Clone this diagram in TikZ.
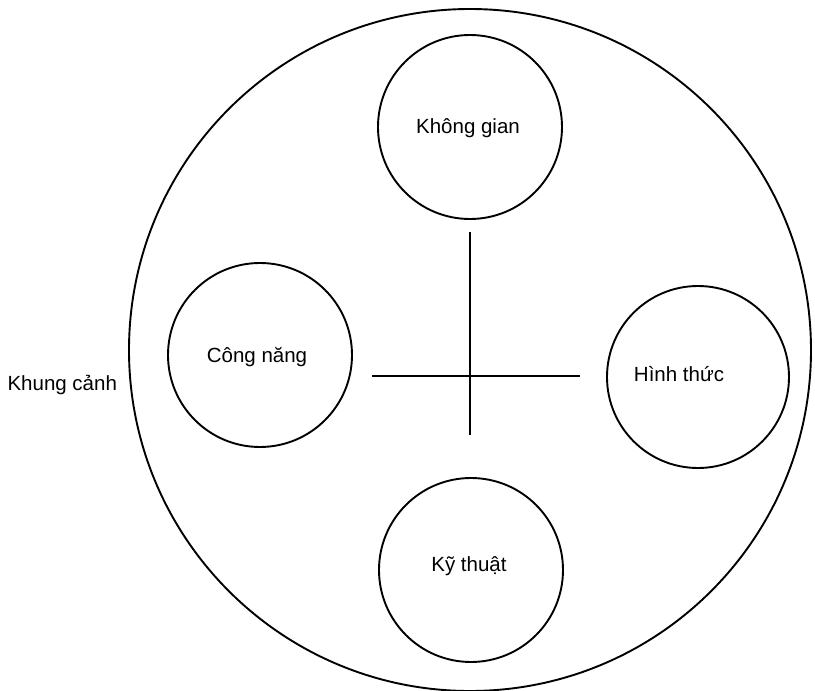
\documentclass[tikz,border=0pt]{standalone}
\usepackage{fontspec}
\setmainfont{Liberation Sans}
\begin{document}
\begin{tikzpicture}[x=1pt,y=-1pt,
  ring/.style={draw=black,line width=1.9pt,circle,inner sep=0pt},
  lbl/.style={font=\fontsize{20.5}{24}\selectfont,text=black},
  bar/.style={line width=1.9pt,draw=black}]
\useasboundingbox (0,0) rectangle (815,691);
\node[ring,minimum size=682pt] (outer) at (470,350) {};
\node[ring,minimum size=184pt] (kg) at (470,127) {};
\node[lbl] at (468,128) {Không gian};
\node[ring,minimum size=184pt] (cn) at (260,355) {};
\node[lbl] at (257,357) {Công năng};
\node[ring,minimum size=182pt] (ht) at (698,377) {};
\node[lbl] at (679,374) {Hình thức};
\node[ring,minimum size=184pt] (kt) at (471,570) {};
\node[lbl] at (469,566) {Kỹ thuật};
\node[lbl,anchor=west] (kc) at (4,385) {Khung cảnh};
\coordinate (vt) at (470,232);
\coordinate (vb) at (470,435);
\coordinate (hl) at (372,376);
\coordinate (hr) at (580,376);
\draw[bar] (vt) -- (vb);
\draw[bar] (hl) -- (hr);
\end{tikzpicture}
\end{document}
